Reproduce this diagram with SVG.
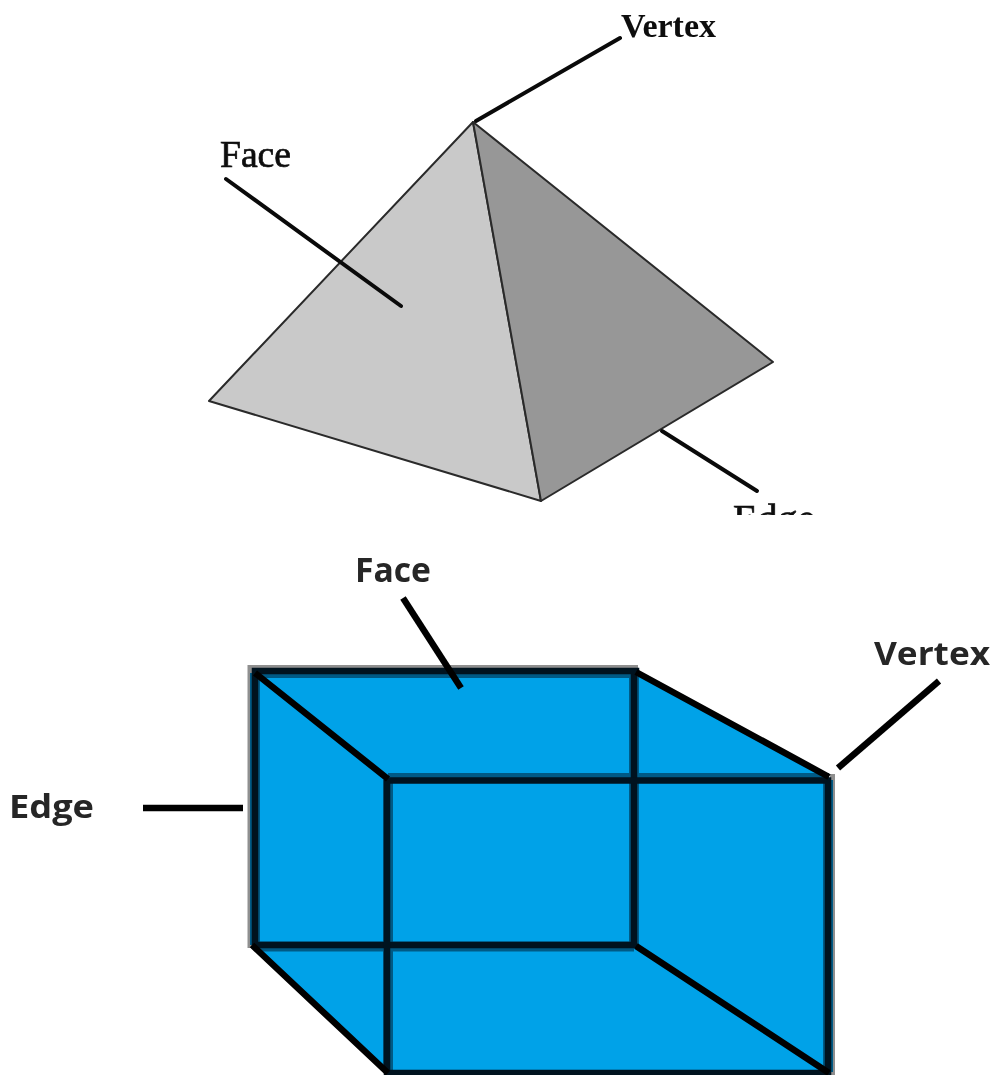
<svg xmlns="http://www.w3.org/2000/svg" width="992" height="1075" viewBox="0 0 992 1075">
<defs>
<filter id="soft" x="-10%" y="-10%" width="120%" height="120%"><feGaussianBlur stdDeviation="0.6"/></filter>
<filter id="softer" x="-10%" y="-10%" width="120%" height="120%"><feGaussianBlur stdDeviation="0.35"/></filter>
</defs>
<style>
.serif{font-family:"Liberation Serif","Times New Roman",serif;fill:#0a0a0a}
.b{font-weight:bold}
.r{font-weight:normal;stroke:#0a0a0a;stroke-width:0.7}
.sans{font-family:"Open Sans","Noto Sans","Liberation Sans",sans-serif;font-weight:bold;fill:#262626;filter:url(#soft)}
.lead{stroke:#0a0a0a;stroke-width:4;fill:none;stroke-linecap:round}
.lead2{stroke:#000;stroke-width:6.5;fill:none}
.glow{stroke:#8c8c8c;stroke-width:8.5;fill:none}
.edge{stroke:#00131f;stroke-width:6.5;fill:none;stroke-linecap:square}
.diag{stroke:#000;stroke-width:6.5;fill:none;stroke-linecap:butt}
.under{stroke:#005a85;stroke-width:10;fill:none}
.halo{stroke:#8f8f8f;stroke-width:5;fill:none}
.pe{stroke:#2a2a2a;stroke-width:2;stroke-linejoin:round}
</style>
<rect width="992" height="1075" fill="#fff"/>
<g id="pyramid">
<polygon class="pe" points="473,122 209,401 541,501" fill="#c9c9c9"/>
<polygon class="pe" points="473,122 773,362 541,501" fill="#979797"/>
</g>
<g id="pyramid-labels" filter="url(#softer)">
<text id="label-vertex-1" class="serif b" x="621" y="37" font-size="34" textLength="95" lengthAdjust="spacingAndGlyphs">Vertex</text>
<text id="label-face-1" class="serif r" x="220" y="167" font-size="37" textLength="71" lengthAdjust="spacingAndGlyphs">Face</text>
<text id="label-edge-1" class="serif r" x="733" y="532" font-size="40">Edge</text>
</g>
<rect id="crop" x="0" y="515" width="992" height="40" fill="#fff"/>
<g id="cube">
<polygon points="254,672 636,672 829,777 829,1073 388,1073 254,945" fill="#00a2e8"/>
<path class="halo" d="M250,948V667.500H638"/>
<path class="halo" d="M832.500,774V1075"/>
<path class="under" d="M388,778H829M255,946.500H634M634,672V946M388,780V1072M255,673H636M255,673V945M828,780V1072"/>
<path class="edge" d="M255,671V945H634V671M255,671H636"/>
<path class="edge" d="M387,780.500H828V1073M387,780.500V1073H828"/>
<path class="diag" d="M255,673L388,779M636,672L829,777M252,945L388,1073M636,946L829,1073"/>
</g>
<g id="connectors">
<path class="lead" d="M476,121L620,38"/>
<path class="lead" d="M226,179L401,306"/>
<path class="lead" d="M662,431L757,491"/>
<path class="lead2" d="M403,598L461,688"/>
<path class="lead2" d="M143,808H243"/>
<path class="lead2" d="M838,768L939,681"/>
</g>
<g id="cube-labels">
<text id="label-face-2" class="sans" x="355" y="582" font-size="34" textLength="76" lengthAdjust="spacingAndGlyphs">Face</text>
<text id="label-edge-2" class="sans" x="9" y="818" font-size="32" textLength="85" lengthAdjust="spacingAndGlyphs">Edge</text>
<text id="label-vertex-2" class="sans" x="874" y="665" font-size="32" textLength="116" lengthAdjust="spacingAndGlyphs">Vertex</text>
</g>
</svg>
